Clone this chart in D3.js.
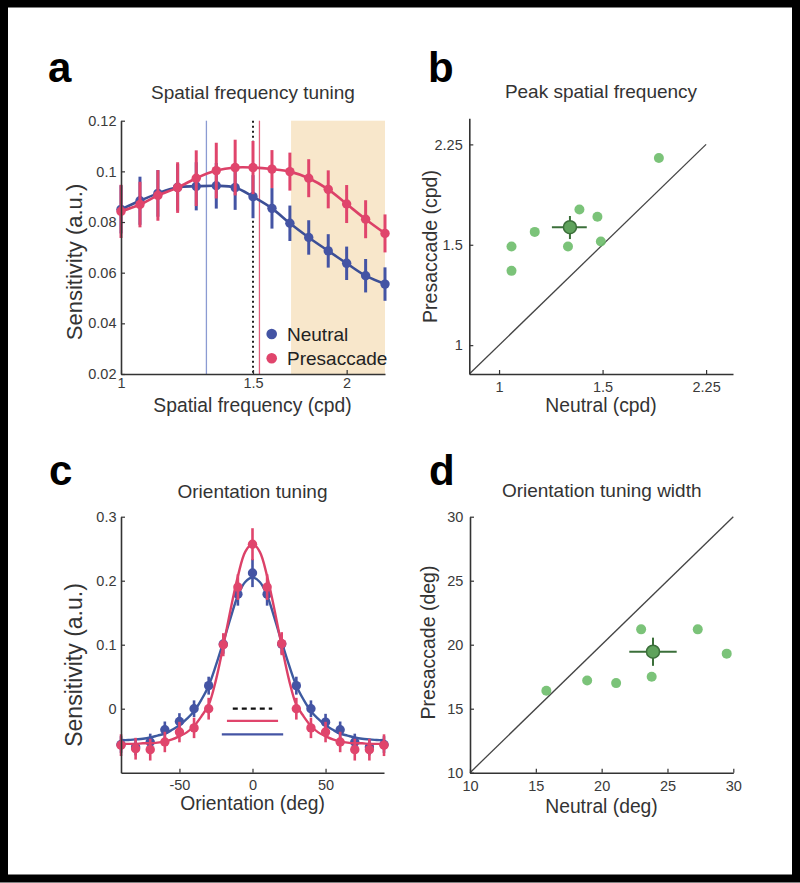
<!DOCTYPE html>
<html><head><meta charset="utf-8">
<script src="https://cdn.jsdelivr.net/npm/d3@7"></script>
<style>
body{margin:0;background:#fff;}
svg{display:block;font-family:"Liberation Sans",Arial,Helvetica,sans-serif;}
</style></head><body>
<svg id="fig" width="800" height="883"></svg>
<script>
// ---------- Panel a: spatial frequency tuning ----------
const sfFreq = [1.00, 1.06, 1.12, 1.19, 1.26, 1.34, 1.42, 1.50, 1.59, 1.68, 1.78, 1.89, 2.00, 2.12, 2.25];
const sfNeutral = [0.0850, 0.0884, 0.0913, 0.0937, 0.0941, 0.0943, 0.0936, 0.0900, 0.0854, 0.0795, 0.0739, 0.0686, 0.0637, 0.0588, 0.0555];
const sfNeutralErr = [0.0095, 0.0095, 0.0092, 0.0092, 0.0095, 0.0090, 0.0088, 0.0085, 0.0080, 0.0070, 0.0068, 0.0066, 0.0066, 0.0066, 0.0066];
const sfPresacc = [0.0842, 0.0869, 0.0905, 0.0936, 0.0973, 0.1003, 0.1015, 0.1015, 0.1009, 0.0999, 0.0973, 0.0929, 0.0871, 0.0811, 0.0755];
const sfPresaccErr = [0.0105, 0.0090, 0.0100, 0.0100, 0.0110, 0.0110, 0.0110, 0.0105, 0.0075, 0.0075, 0.0075, 0.0075, 0.0075, 0.0075, 0.0075];
const sfYTicks = [0.02, 0.04, 0.06, 0.08, 0.1, 0.12];
const sfYLabels = ["0.02", "0.04", "0.06", "0.08", "0.1", "0.12"];
const sfXTicks = [1, 1.5, 2];
const sfXLabels = ["1", "1.5", "2"];
const sfPeakNeutral = 1.30;
const sfPeakPresacc = 1.53;
const sfReference = 1.50;
const sfBand = [1.686, 2.25];
const legendNames = ["Neutral", "Presaccade"];

// ---------- Panel b: peak spatial frequency ----------
const peakNeutral = [1.05, 1.05, 1.15, 1.31, 1.37, 1.47, 1.49, 1.87];
const peakPresacc = [1.35, 1.49, 1.58, 1.49, 1.73, 1.68, 1.52, 2.13];
const peakMean = [1.32, 1.61];
const peakSem = [0.09, 0.075];
const peakTicks = [1, 1.5, 2.25];
const peakLabels = ["1", "1.5", "2.25"];

// ---------- Panel c: orientation tuning ----------
const oriDeg = [-90, -80, -70, -60, -50, -40, -30, -20, -10, 0, 10, 20, 30, 40, 50, 60, 70, 80, 90];
const oriNeutral = [-0.056, -0.060, -0.052, -0.033, -0.020, 0.000, 0.036, 0.101, 0.179, 0.212, 0.179, 0.101, 0.036, 0.000, -0.021, -0.033, -0.052, -0.060, -0.056];
const oriNeutralErr = [0.013, 0.013, 0.013, 0.013, 0.013, 0.013, 0.014, 0.015, 0.018, 0.022, 0.018, 0.015, 0.014, 0.013, 0.013, 0.013, 0.013, 0.013, 0.013];
const oriPresacc = [-0.057, -0.0625, -0.064, -0.052, -0.0365, -0.030, 0.000, 0.100, 0.190, 0.257, 0.190, 0.1016, 0.000, -0.030, -0.0365, -0.052, -0.064, -0.064, -0.057];
const oriPresaccErr = [0.017, 0.017, 0.017, 0.016, 0.016, 0.016, 0.017, 0.018, 0.020, 0.025, 0.020, 0.018, 0.017, 0.016, 0.016, 0.016, 0.017, 0.017, 0.017];
const oriFitDeg = [-90, -85, -80, -75, -70, -65, -60, -55, -50, -45, -40, -35, -30, -25, -20, -15, -10, -5, 0, 5, 10, 15, 20, 25, 30, 35, 40, 45, 50, 55, 60, 65, 70, 75, 80, 85, 90];
const oriFitNeutral = [-0.049, -0.049, -0.048, -0.047, -0.045, -0.042, -0.039, -0.033, -0.026, -0.016, -0.004, 0.014, 0.036, 0.068, 0.104, 0.142, 0.177, 0.198, 0.205, 0.198, 0.177, 0.142, 0.104, 0.068, 0.036, 0.014, -0.004, -0.016, -0.026, -0.033, -0.039, -0.042, -0.045, -0.047, -0.048, -0.049, -0.049];
const oriFitPresacc = [-0.055, -0.055, -0.055, -0.054, -0.054, -0.053, -0.051, -0.048, -0.043, -0.037, -0.027, -0.012, 0.006, 0.045, 0.098, 0.155, 0.207, 0.245, 0.258, 0.245, 0.207, 0.155, 0.098, 0.045, 0.006, -0.012, -0.027, -0.037, -0.043, -0.048, -0.051, -0.053, -0.054, -0.054, -0.055, -0.055, -0.055];
const oriWidthHalf = [13.5, 17.5, 21];
const oriWidthLevel = [0, -0.019, -0.040];
const oriXTicks = [-50, 0, 50];
const oriXLabels = ["-50", "0", "50"];
const oriYTicks = [0, 0.1, 0.2, 0.3];
const oriYLabels = ["0", "0.1", "0.2", "0.3"];

// ---------- Panel d: orientation tuning width ----------
const widthNeutral = [15.8, 18.9, 21.1, 23.0, 23.8, 27.3, 29.5];
const widthPresacc = [16.4, 17.2, 17.0, 21.2, 17.5, 21.2, 19.3];
const widthMean = [23.9, 19.45];
const widthSem = [1.8, 1.1];
const widthTicks = [10, 15, 20, 25, 30];
const widthLabels = ["10", "15", "20", "25", "30"];

// ---------- styles ----------
const C = {
  blue: "#4454a4", red: "#e0456c", blueLine: "#3c4f96", redLine: "#dc4168",
  blueThin: "#8b9bd2", redThin: "#e3647f", band: "#f8e7cb",
  green: "#6dbd6a", greenDark: "#3b6f3a", greenMean: "#5fa25c",
  axis: "#333", text: "#333"
};
const FONT = '"Liberation Sans", Arial, Helvetica, sans-serif';
const TICK_SIZE = 14.5;

const svg = d3.select("#fig");
svg.append("rect").attr("x", 4).attr("y", 3.5).attr("width", 792).attr("height", 875)
  .attr("fill", "#fff").attr("stroke", "#000").attr("stroke-width", 8);

function drawAxes(x, y, o) {
  const gx = svg.append("g").attr("transform", `translate(0,${y.range()[0]})`)
    .call(d3.axisBottom(x).tickValues(o.xt).tickFormat((d, i) => o.xl[i])
      .tickSizeInner(-4).tickSizeOuter(0).tickPadding(o.xp));
  const gy = svg.append("g").attr("transform", `translate(${x.range()[0]},0)`)
    .call(d3.axisLeft(y).tickValues(o.yt).tickFormat((d, i) => o.yl[i])
      .tickSizeInner(-4).tickSizeOuter(0).tickPadding(o.yp));
  [gx, gy].forEach(g => {
    g.attr("font-family", FONT).attr("font-size", TICK_SIZE);
    g.select(".domain").attr("stroke", C.axis).attr("stroke-width", 1.6);
    g.selectAll(".tick line").attr("stroke", C.axis).attr("stroke-width", 1.2);
    g.selectAll(".tick text").attr("fill", "#3a3a3a");
  });
}
function text(x, y, s, size, opt = {}) {
  const t = svg.append("text").attr("x", x).attr("y", y).text(s)
    .attr("font-size", size).attr("fill", opt.fill || C.text)
    .attr("text-anchor", opt.anchor || "middle")
    .attr("font-weight", opt.weight || "normal");
  if (opt.rot) t.attr("x", 0).attr("y", 0).attr("transform", `translate(${x},${y}) rotate(-90)`);
  return t;
}

// ================= Panel a =================
{
  const x = d3.scaleLog().domain([1, 2.25]).range([121, 385]);
  const y = d3.scaleLinear().domain([0.02, 0.12]).range([374, 120.7]);
  svg.append("rect").attr("x", x(sfBand[0])).attr("y", y(0.12))
    .attr("width", x(sfBand[1]) - x(sfBand[0])).attr("height", y(0.02) - y(0.12)).attr("fill", C.band);
  svg.append("line").attr("x1", x(sfPeakNeutral)).attr("x2", x(sfPeakNeutral))
    .attr("y1", y(0.12)).attr("y2", y(0.02)).attr("stroke", C.blueThin).attr("stroke-width", 1.3);
  svg.append("line").attr("x1", x(sfPeakPresacc)).attr("x2", x(sfPeakPresacc))
    .attr("y1", y(0.12)).attr("y2", y(0.02)).attr("stroke", C.redThin).attr("stroke-width", 1.3);
  svg.append("line").attr("x1", x(sfReference)).attr("x2", x(sfReference))
    .attr("y1", y(0.12)).attr("y2", y(0.02)).attr("stroke", "#222").attr("stroke-width", 2)
    .attr("stroke-dasharray", "2,3");

  const series = [
    {v: sfNeutral, e: sfNeutralErr, c: C.blue, lc: C.blueLine},
    {v: sfPresacc, e: sfPresaccErr, c: C.red, lc: C.redLine}
  ];
  series.forEach(s => {
    const line = d3.line().x((d, i) => x(sfFreq[i])).y(d => y(d)).curve(d3.curveCatmullRom);
    svg.append("path").attr("d", line(s.v)).attr("fill", "none").attr("stroke", s.lc).attr("stroke-width", 2.6);
    svg.append("g").selectAll("line").data(s.v).join("line")
      .attr("x1", (d, i) => x(sfFreq[i])).attr("x2", (d, i) => x(sfFreq[i]))
      .attr("y1", (d, i) => y(d - s.e[i])).attr("y2", (d, i) => y(d + s.e[i]))
      .attr("stroke", s.c).attr("stroke-width", 3);
    svg.append("g").selectAll("circle").data(s.v).join("circle")
      .attr("cx", (d, i) => x(sfFreq[i])).attr("cy", d => y(d)).attr("r", 4.7).attr("fill", s.c);
  });
  drawAxes(x, y, {xt: sfXTicks, xl: sfXLabels, xp: 3.8, yt: sfYTicks, yl: sfYLabels, yp: 4.5});
  // legend
  [C.blue, C.red].forEach((c, i) => {
    svg.append("circle").attr("cx", 271.7).attr("cy", 334 + i * 24.3).attr("r", 5.3).attr("fill", c);
    text(287, 341 + i * 24.3, legendNames[i], 19, {anchor: "start", fill: "#222"});
  });
  text(253, 99, "Spatial frequency tuning", 19);
  text(252.5, 411.5, "Spatial frequency (cpd)", 19.3);
  text(82, 262, "Sensitivity (a.u.)", 22, {rot: true});
  text(48, 82, "a", 42, {anchor: "start", weight: "bold", fill: "#000"});
}

// ================= Panel b =================
{
  const x = d3.scaleLog().domain([0.89, 2.5]).range([469.3, 733]);
  const y = d3.scaleLog().domain([0.89, 2.5]).range([374, 118.3]);
  svg.append("line").attr("x1", x(0.89)).attr("y1", y(0.89)).attr("x2", x(2.25)).attr("y2", y(2.25))
    .attr("stroke", "#444").attr("stroke-width", 1.3);
  svg.append("g").selectAll("circle").data(peakNeutral).join("circle")
    .attr("cx", d => x(d)).attr("cy", (d, i) => y(peakPresacc[i])).attr("r", 5)
    .attr("fill", C.green).attr("fill-opacity", 0.9);
  const mx = peakMean[0], my = peakMean[1];
  svg.append("line").attr("x1", x(mx - peakSem[0])).attr("x2", x(mx + peakSem[0]))
    .attr("y1", y(my)).attr("y2", y(my)).attr("stroke", C.greenDark).attr("stroke-width", 2);
  svg.append("line").attr("x1", x(mx)).attr("x2", x(mx))
    .attr("y1", y(my - peakSem[1])).attr("y2", y(my + peakSem[1])).attr("stroke", C.greenDark).attr("stroke-width", 2);
  svg.append("circle").attr("cx", x(mx)).attr("cy", y(my)).attr("r", 6.5)
    .attr("fill", C.greenMean).attr("stroke", C.greenDark).attr("stroke-width", 1.5);
  drawAxes(x, y, {xt: peakTicks, xl: peakLabels, xp: 7.4, yt: peakTicks, yl: peakLabels, yp: 6.6});
  text(601, 98, "Peak spatial frequency", 19);
  text(601, 412, "Neutral (cpd)", 19.3);
  text(436.5, 246.5, "Presaccade (cpd)", 19.5, {rot: true});
  text(428, 82, "b", 42, {anchor: "start", weight: "bold", fill: "#000"});
}

// ================= Panel c =================
{
  const x = d3.scaleLinear().domain([-90, 90]).range([121, 384]);
  const y = d3.scaleLinear().domain([-0.1, 0.3]).range([772.7, 516.7]);
  const series = [
    {v: oriNeutral, e: oriNeutralErr, f: oriFitNeutral, c: C.blue, lc: "#3d5aa0"},
    {v: oriPresacc, e: oriPresaccErr, f: oriFitPresacc, c: C.red, lc: C.redLine}
  ];
  series.forEach(s => {
    const line = d3.line().x((d, i) => x(oriFitDeg[i])).y(d => y(d)).curve(d3.curveCatmullRom);
    svg.append("path").attr("d", line(s.f)).attr("fill", "none").attr("stroke", s.lc).attr("stroke-width", 2.4);
    svg.append("g").selectAll("line").data(s.v).join("line")
      .attr("x1", (d, i) => x(oriDeg[i])).attr("x2", (d, i) => x(oriDeg[i]))
      .attr("y1", (d, i) => y(d - s.e[i])).attr("y2", (d, i) => y(d + s.e[i]))
      .attr("stroke", s.c).attr("stroke-width", 2.6);
    svg.append("g").selectAll("circle").data(s.v).join("circle")
      .attr("cx", (d, i) => x(oriDeg[i])).attr("cy", d => y(d)).attr("r", 4.7).attr("fill", s.c);
  });
  const wc = ["#111", C.red, C.blue];
  oriWidthHalf.forEach((h, i) => {
    svg.append("line").attr("x1", x(-h)).attr("x2", x(h)).attr("y1", y(oriWidthLevel[i])).attr("y2", y(oriWidthLevel[i]))
      .attr("stroke", wc[i]).attr("stroke-width", 2.3).attr("stroke-dasharray", i === 0 ? "5,4" : null);
  });
  drawAxes(x, y, {xt: oriXTicks, xl: oriXLabels, xp: 7, yt: oriYTicks, yl: oriYLabels, yp: 4.5});
  text(252.5, 498, "Orientation tuning", 19);
  text(252.5, 810, "Orientation (deg)", 19.3);
  text(82, 665, "Sensitivity (a.u.)", 23, {rot: true});
  text(49, 485, "c", 42, {anchor: "start", weight: "bold", fill: "#000"});
}

// ================= Panel d =================
{
  const x = d3.scaleLinear().domain([10, 30]).range([470, 733.3]);
  const y = d3.scaleLinear().domain([10, 30]).range([772.7, 516.7]);
  svg.append("line").attr("x1", x(10)).attr("y1", y(10)).attr("x2", x(30)).attr("y2", y(30))
    .attr("stroke", "#444").attr("stroke-width", 1.3);
  svg.append("g").selectAll("circle").data(widthNeutral).join("circle")
    .attr("cx", d => x(d)).attr("cy", (d, i) => y(widthPresacc[i])).attr("r", 5)
    .attr("fill", C.green).attr("fill-opacity", 0.9);
  const mx = widthMean[0], my = widthMean[1];
  svg.append("line").attr("x1", x(mx - widthSem[0])).attr("x2", x(mx + widthSem[0]))
    .attr("y1", y(my)).attr("y2", y(my)).attr("stroke", C.greenDark).attr("stroke-width", 2);
  svg.append("line").attr("x1", x(mx)).attr("x2", x(mx))
    .attr("y1", y(my - widthSem[1])).attr("y2", y(my + widthSem[1])).attr("stroke", C.greenDark).attr("stroke-width", 2);
  svg.append("circle").attr("cx", x(mx)).attr("cy", y(my)).attr("r", 6.5)
    .attr("fill", C.greenMean).attr("stroke", C.greenDark).attr("stroke-width", 1.5);
  drawAxes(x, y, {xt: widthTicks, xl: widthLabels, xp: 7.7, yt: widthTicks, yl: widthLabels, yp: 6.6});
  text(601.7, 497, "Orientation tuning width", 19);
  text(601.5, 813, "Neutral (deg)", 19.3);
  text(435, 642.5, "Presaccade (deg)", 19.5, {rot: true});
  text(429, 485, "d", 42, {anchor: "start", weight: "bold", fill: "#000"});
}
</script>
</body></html>
